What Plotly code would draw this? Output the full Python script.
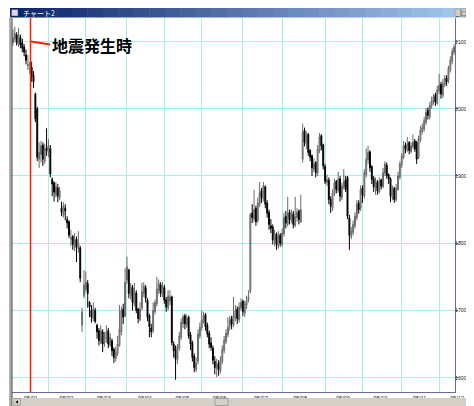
import plotly.graph_objects as go

# ---------------- data (daily OHLC, Jan 4 1995 .. mid Dec 1995) ----------------
opens = [
    2098, 2104, 2110, 2096, 2106, 2098, 2092, 2080, 2064, 2058,
    2062, 2050, 2022, 2000, 1925, 1932, 1946, 1922, 1942, 1936,
    1941, 1895, 1890, 1872, 1882, 1868, 1852, 1842, 1852, 1835,
    1832, 1806, 1810, 1793, 1806, 1792, 1793, 1678, 1722, 1732,
    1740, 1712, 1700, 1688, 1700, 1678, 1670, 1652, 1668, 1652,
    1658, 1670, 1648, 1655, 1642, 1628, 1636, 1648, 1668, 1702,
    1692, 1745, 1760, 1722, 1734, 1710, 1726, 1702, 1686, 1704,
    1726, 1734, 1715, 1692, 1674, 1670, 1698, 1710, 1730, 1738,
    1724, 1734, 1716, 1704, 1714, 1720, 1650, 1642, 1626, 1644,
    1660, 1680, 1692, 1678, 1690, 1664, 1652, 1632, 1612, 1624,
    1662, 1674, 1684, 1694, 1678, 1666, 1652, 1644, 1624, 1614,
    1622, 1610, 1624, 1640, 1654, 1664, 1676, 1688, 1678, 1690,
    1702, 1686, 1704, 1714, 1696, 1708, 1716, 1728, 1845, 1836,
    1852, 1834, 1858, 1878, 1866, 1884, 1860, 1846, 1826, 1824,
    1804, 1814, 1796, 1812, 1798, 1814, 1840, 1828, 1846, 1834,
    1844, 1826, 1838, 1848, 1832, 1925, 1968, 1948, 1962, 1938,
    1930, 1910, 1920, 1904, 1938, 1960, 1946, 1914, 1890, 1894,
    1866, 1852, 1874, 1892, 1878, 1896, 1868, 1884, 1894, 1898,
    1838, 1810, 1816, 1826, 1838, 1860, 1852, 1882, 1870, 1902,
    1924, 1936, 1914, 1896, 1882, 1892, 1876, 1894, 1884, 1904,
    1916, 1902, 1896, 1868, 1882, 1864, 1880, 1898, 1916, 1928,
    1946, 1938, 1950, 1936, 1944, 1952, 1950, 1928, 1954, 1966,
    1970, 1980, 1998, 1988, 2004, 2010, 2020, 2008, 2026, 2036,
    2020, 2036, 2046, 2042, 2058, 2070, 2084,
]
highs = [
    2118, 2122, 2114, 2120, 2110, 2104, 2096, 2088, 2080, 2070,
    2070, 2056, 2024, 2003, 1950, 1952, 1950, 1948, 1971, 1955,
    1946, 1898, 1892, 1891, 1888, 1884, 1862, 1861, 1858, 1840,
    1834, 1820, 1812, 1815, 1810, 1818, 1796, 1704, 1760, 1758,
    1745, 1714, 1708, 1712, 1704, 1680, 1674, 1678, 1672, 1668,
    1678, 1674, 1666, 1658, 1645, 1646, 1662, 1708, 1706, 1710,
    1763, 1780, 1762, 1741, 1738, 1741, 1730, 1704, 1712, 1741,
    1742, 1738, 1718, 1695, 1680, 1712, 1716, 1750, 1746, 1742,
    1742, 1738, 1720, 1730, 1730, 1722, 1654, 1648, 1650, 1668,
    1688, 1694, 1695, 1694, 1692, 1668, 1655, 1636, 1630, 1672,
    1682, 1700, 1698, 1696, 1682, 1670, 1660, 1648, 1632, 1628,
    1626, 1632, 1648, 1662, 1672, 1690, 1692, 1692, 1720, 1708,
    1706, 1712, 1718, 1716, 1714, 1722, 1730, 1845, 1858, 1879,
    1856, 1868, 1891, 1882, 1891, 1886, 1864, 1850, 1836, 1828,
    1820, 1816, 1818, 1815, 1822, 1845, 1848, 1869, 1850, 1850,
    1848, 1869, 1852, 1850, 1872, 1978, 1972, 1966, 1964, 1940,
    1932, 1926, 1922, 1946, 1964, 1962, 1948, 1918, 1902, 1898,
    1870, 1880, 1896, 1894, 1906, 1900, 1890, 1910, 1900, 1900,
    1842, 1824, 1834, 1846, 1864, 1864, 1886, 1886, 1910, 1941,
    1945, 1938, 1916, 1900, 1898, 1894, 1898, 1896, 1912, 1922,
    1920, 1904, 1898, 1886, 1884, 1888, 1906, 1922, 1934, 1952,
    1950, 1958, 1952, 1950, 1962, 1955, 1952, 1960, 1975, 1978,
    1988, 2001, 2002, 2010, 2018, 2022, 2024, 2034, 2052, 2040,
    2044, 2050, 2050, 2064, 2078, 2090, 2096,
]
lows = [
    2094, 2100, 2094, 2092, 2090, 2084, 2078, 2066, 2058, 2052,
    2040, 2031, 1980, 1922, 1912, 1920, 1915, 1918, 1930, 1928,
    1898, 1870, 1862, 1868, 1861, 1864, 1840, 1838, 1834, 1822,
    1808, 1796, 1790, 1788, 1772, 1786, 1742, 1668, 1718, 1728,
    1704, 1690, 1682, 1684, 1681, 1658, 1648, 1650, 1638, 1646,
    1652, 1644, 1646, 1632, 1622, 1624, 1632, 1646, 1663, 1680,
    1690, 1740, 1718, 1716, 1700, 1706, 1696, 1681, 1684, 1700,
    1720, 1712, 1684, 1660, 1660, 1666, 1694, 1706, 1724, 1720,
    1720, 1710, 1698, 1700, 1708, 1648, 1630, 1597, 1620, 1640,
    1656, 1674, 1672, 1674, 1658, 1641, 1624, 1608, 1608, 1620,
    1658, 1670, 1680, 1670, 1660, 1644, 1640, 1620, 1605, 1601,
    1603, 1606, 1620, 1636, 1650, 1660, 1670, 1672, 1675, 1684,
    1680, 1682, 1700, 1692, 1690, 1702, 1712, 1725, 1830, 1832,
    1826, 1830, 1854, 1860, 1862, 1852, 1838, 1820, 1815, 1798,
    1795, 1790, 1792, 1795, 1795, 1810, 1822, 1825, 1828, 1830,
    1822, 1824, 1832, 1828, 1830, 1920, 1944, 1940, 1930, 1922,
    1900, 1906, 1898, 1900, 1934, 1938, 1910, 1888, 1885, 1858,
    1845, 1848, 1870, 1874, 1875, 1862, 1864, 1880, 1876, 1836,
    1790, 1806, 1812, 1822, 1834, 1844, 1848, 1860, 1866, 1898,
    1918, 1906, 1888, 1876, 1872, 1872, 1874, 1880, 1882, 1900,
    1896, 1888, 1861, 1864, 1860, 1862, 1878, 1895, 1912, 1925,
    1934, 1936, 1932, 1934, 1940, 1936, 1918, 1925, 1950, 1962,
    1966, 1976, 1984, 1984, 2000, 2006, 2004, 2006, 2022, 2015,
    2016, 2032, 2034, 2038, 2054, 2066, 2080,
]
closes = [
    2105, 2112, 2098, 2110, 2095, 2090, 2084, 2072, 2066, 2060,
    2048, 2040, 1985, 1928, 1935, 1945, 1925, 1940, 1938, 1945,
    1903, 1888, 1876, 1884, 1870, 1878, 1846, 1855, 1848, 1830,
    1812, 1808, 1798, 1805, 1795, 1800, 1748, 1698, 1738, 1742,
    1725, 1705, 1690, 1702, 1684, 1668, 1655, 1670, 1650, 1660,
    1668, 1650, 1660, 1640, 1630, 1638, 1650, 1672, 1700, 1690,
    1742, 1765, 1725, 1736, 1712, 1728, 1700, 1688, 1702, 1728,
    1736, 1718, 1690, 1676, 1668, 1700, 1712, 1732, 1740, 1726,
    1736, 1715, 1705, 1722, 1720, 1652, 1640, 1628, 1646, 1662,
    1682, 1690, 1680, 1688, 1662, 1650, 1630, 1615, 1622, 1665,
    1675, 1686, 1692, 1676, 1665, 1650, 1645, 1626, 1615, 1620,
    1612, 1625, 1642, 1656, 1666, 1675, 1686, 1680, 1692, 1700,
    1688, 1705, 1712, 1698, 1710, 1715, 1720, 1842, 1838, 1850,
    1832, 1860, 1875, 1868, 1885, 1858, 1845, 1828, 1822, 1805,
    1812, 1798, 1810, 1800, 1815, 1838, 1830, 1845, 1835, 1842,
    1828, 1840, 1846, 1835, 1850, 1965, 1950, 1960, 1935, 1928,
    1912, 1918, 1905, 1940, 1958, 1945, 1915, 1892, 1895, 1865,
    1855, 1875, 1890, 1880, 1895, 1870, 1885, 1892, 1880, 1840,
    1812, 1818, 1828, 1840, 1858, 1850, 1880, 1872, 1905, 1925,
    1935, 1912, 1895, 1884, 1890, 1878, 1892, 1885, 1905, 1918,
    1900, 1895, 1870, 1880, 1865, 1882, 1900, 1918, 1930, 1945,
    1940, 1948, 1938, 1945, 1950, 1940, 1925, 1955, 1968, 1972,
    1982, 1995, 1990, 2005, 2012, 2018, 2010, 2028, 2035, 2022,
    2038, 2045, 2040, 2060, 2072, 2085, 2092,
]
month_labels = ["95/01", "95/02", "95/03", "95/04", "95/05", "95/06",
                "95/07", "95/08", "95/09", "95/10", "95/11", "95/12"]
month_trading_days = [19, 20, 22, 20, 20, 22, 21, 23, 20, 21, 20, 9]
price_ticks = [1600, 1700, 1800, 1900, 2000, 2100]
annotation_text = "地震発生時"
window_title = "チャート2"

# ---------------- derived ----------------
days = list(range(len(closes)))
month_starts = []
acc = 0
for n in month_trading_days:
    month_starts.append(acc)
    acc += n

# page geometry (page has an 8px body margin; figure drawn from page (8,8))
OFF = 8
PAGE_W, PAGE_H = 474, 406
W, H = PAGE_W - OFF, PAGE_H - OFF
PL, PR, PT, PB = 12, 455, 18, 392          # plot area in page pixels
def fx(x):
    return (x - PL) / (PR - PL)
def fy(y):
    return (PB - y) / (PB - PT)

GRID = "#a6eeee"
AXIS = "#6e66a8"
QUAKE_X = 9.4

fig = go.Figure()
fig.add_trace(go.Candlestick(
    x=days, open=opens, high=highs, low=lows, close=closes,
    increasing=dict(line=dict(color="#6a6a6a", width=1), fillcolor="#b4b4b4"),
    decreasing=dict(line=dict(color="#000000", width=1), fillcolor="#000000"),
    whiskerwidth=0, hoverinfo="skip", showlegend=False,
))

shapes = []
# earthquake red vertical line
shapes.append(dict(type="line", xref="x", yref="paper", x0=QUAKE_X, x1=QUAKE_X,
                   y0=0, y1=1, line=dict(color="#ff2200", width=1.5), layer="above"))
# leader line to annotation
shapes.append(dict(type="line", xref="paper", yref="paper", x0=fx(31), y0=fy(41.5),
                   x1=fx(50), y1=fy(44.5), line=dict(color="#ff2200", width=2.2)))

# title bar gradient
c0 = (10, 36, 106)
c1 = (166, 202, 240)
nseg = 30
x_start, x_end = 10, 474
for i in range(nseg):
    t = i / (nseg - 1)
    col = tuple(int(c0[k] + (c1[k] - c0[k]) * t) for k in range(3))
    xa = x_start + (x_end - x_start) * i / nseg
    xb = x_start + (x_end - x_start) * (i + 1) / nseg + 0.5
    shapes.append(dict(type="rect", xref="paper", yref="paper",
                       x0=fx(xa), x1=fx(xb), y0=fy(17.5), y1=fy(8),
                       fillcolor="rgb(%d,%d,%d)" % col, line=dict(width=0)))
# title icon
shapes.append(dict(type="rect", xref="paper", yref="paper", x0=fx(11.5), x1=fx(18),
                   y0=fy(16), y1=fy(9.5), fillcolor="#d8d8e8", line=dict(color="#404060", width=0.5)))
# title buttons
for bx in [455, 461, 467]:
    shapes.append(dict(type="rect", xref="paper", yref="paper", x0=fx(bx), x1=fx(bx + 5.5),
                       y0=fy(16.5), y1=fy(9), fillcolor="#d4d0c8",
                       line=dict(color="#808080", width=0.5)))
# left window frame
shapes.append(dict(type="rect", xref="paper", yref="paper", x0=fx(9.5), x1=fx(12),
                   y0=fy(406), y1=fy(17.5), fillcolor="#d4d0c8", line=dict(width=0)))
shapes.append(dict(type="line", xref="paper", yref="paper", x0=fx(10), x1=fx(10),
                   y0=fy(406), y1=fy(17.5), line=dict(color="#808080", width=1)))
shapes.append(dict(type="line", xref="paper", yref="paper", x0=fx(12), x1=fx(12),
                   y0=fy(406), y1=fy(18), line=dict(color="#404040", width=1)))
# bottom scrollbar
shapes.append(dict(type="rect", xref="paper", yref="paper", x0=fx(12), x1=fx(474),
                   y0=fy(406), y1=fy(398), fillcolor="#d4d0c8", line=dict(width=0)))
shapes.append(dict(type="rect", xref="paper", yref="paper", x0=fx(13), x1=fx(20.5),
                   y0=fy(405.5), y1=fy(398.5), fillcolor="#d4d0c8",
                   line=dict(color="#808080", width=0.6)))
shapes.append(dict(type="rect", xref="paper", yref="paper", x0=fx(215), x1=fx(228),
                   y0=fy(405.5), y1=fy(398.5), fillcolor="#d4d0c8",
                   line=dict(color="#808080", width=0.6)))
shapes.append(dict(type="path", xref="paper", yref="paper",
                   path="M %f %f L %f %f L %f %f Z" % (fx(15.5), fy(402), fx(18), fy(400.3), fx(18), fy(403.7)),
                   fillcolor="#000000", line=dict(width=0)))

annotations = [
    dict(text="<b>" + annotation_text + "</b>", xref="paper", yref="paper",
         x=fx(50), y=fy(45.5), xanchor="left", yanchor="middle", showarrow=False,
         font=dict(family="Noto Sans CJK JP", size=16, color="#000000")),
    dict(text=window_title, xref="paper", yref="paper", x=fx(21), y=fy(12.8),
         xanchor="left", yanchor="middle", showarrow=False,
         font=dict(family="Noto Sans CJK JP", size=7, color="#ffffff")),
]
for bx, sym in zip([455, 461, 467], ["_", "□", "×"]):
    annotations.append(dict(text=sym, xref="paper", yref="paper", x=fx(bx + 2.75), y=fy(12.8),
                            xanchor="center", yanchor="middle", showarrow=False,
                            font=dict(family="DejaVu Sans", size=6, color="#000000")))
# right-side price labels, positioned on the y scale
for v in price_ticks:
    annotations.append(dict(text=str(v), xref="paper", yref="y", x=fx(468.5), y=v,
                            xanchor="right", yanchor="middle", showarrow=False,
                            font=dict(family="Liberation Sans", size=5.2, color="#222222")))

fig.update_layout(
    width=W, height=H,
    margin=dict(l=PL - OFF, r=PAGE_W - PR, t=PT - OFF, b=PAGE_H - PB, pad=0),
    paper_bgcolor="#ffffff", plot_bgcolor="#ffffff",
    shapes=shapes, annotations=annotations,
    showlegend=False,
    xaxis=dict(
        range=[-0.5, len(closes) - 0.5], rangeslider=dict(visible=False),
        tickvals=month_starts, ticktext=month_labels,
        showgrid=True, gridcolor=GRID, gridwidth=1, zeroline=False,
        showline=True, linecolor=AXIS, linewidth=1,
        ticks="", ticklabelshift=18,
        tickfont=dict(family="Liberation Sans", size=5.5, color="#222222"),
        fixedrange=True,
    ),
    yaxis=dict(
        side="right", range=[1578.7, 2135],
        tickvals=price_ticks, showticklabels=False,
        showgrid=True, gridcolor=GRID, gridwidth=1, zeroline=False,
        showline=True, linecolor=AXIS, linewidth=1,
        ticks="outside", ticklen=2, tickcolor=AXIS,
        fixedrange=True,
    ),
)

fig.write_html(
    "out.html",
    post_script="document.documentElement.style.overflow='hidden';"
                "document.body.style.overflow='hidden';",
)
